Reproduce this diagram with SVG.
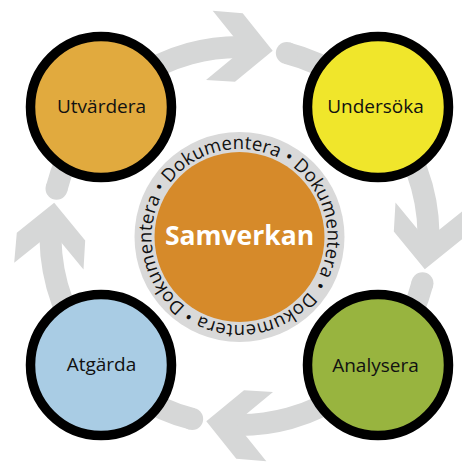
<svg xmlns="http://www.w3.org/2000/svg" xmlns:xlink="http://www.w3.org/1999/xlink" width="462" height="462" viewBox="0 0 462 462">
<style>
.band{fill:none;stroke:#D6D7D7;stroke-width:22;stroke-linecap:butt}
.gray{fill:#D6D7D7}
.node{stroke:#000;stroke-width:9.5}
.lbl{font-family:"Open Sans","Liberation Sans",sans-serif;font-size:19px;fill:#111;text-anchor:middle}
.ring{font-family:"Open Sans","Liberation Sans",sans-serif;font-size:18.5px;fill:#111;letter-spacing:0.1px}
.title{font-family:"Open Sans","Liberation Sans",sans-serif;font-size:26.5px;font-weight:bold;fill:#fff;text-anchor:middle}
</style>
<defs>
<g id="arrow">
<path class="band" d="M56.53,188.67 A189,189 0 0 1 252.69,47.46"/>
<circle class="gray" cx="56.53" cy="188.67" r="11"/>
<polygon class="gray" points="272.7,50.7 242.7,13.3 212.7,10.7 243.5,49.1 206,80 235,81.7"/>
</g>
<path id="ringpath" d="M309.78,289.96 A88,88 0 1 1 169.22,184.04 A88,88 0 1 1 309.78,289.96"/>
</defs>
<rect width="462" height="462" fill="#fff"/>
<g id="connectors">
<use xlink:href="#arrow"/>
<use xlink:href="#arrow" transform="rotate(90 239.5 236)"/>
<use xlink:href="#arrow" transform="rotate(180 239.5 236)"/>
<use xlink:href="#arrow" transform="rotate(270 239.5 236)"/>
</g>
<g id="samverkan">
<circle cx="239.5" cy="237" r="105" fill="#D9D9D9"/>
<circle cx="239.5" cy="237" r="85" fill="#D68A2A"/>
<text class="ring"><textPath xlink:href="#ringpath" startOffset="2">Dokumentera • Dokumentera • Dokumentera • Dokumentera •</textPath></text>
<text class="title" x="239.5" y="245">Samverkan</text>
</g>
<g id="utvardera">
<circle class="node" cx="101" cy="107" r="70.5" fill="#E1AA3E"/>
<text class="lbl" x="101.5" y="113">Utvärdera</text>
</g>
<g id="undersoka">
<circle class="node" cx="378" cy="107" r="70.5" fill="#F0E62B"/>
<text class="lbl" x="375.5" y="113">Undersöka</text>
</g>
<g id="atgarda">
<circle class="node" cx="101" cy="365" r="70.5" fill="#A9CCE4"/>
<text class="lbl" x="101.5" y="371">Atgärda</text>
</g>
<g id="analysera">
<circle class="node" cx="378" cy="365" r="70.5" fill="#98B43F"/>
<text class="lbl" x="375.5" y="371.5">Analysera</text>
</g>
</svg>
